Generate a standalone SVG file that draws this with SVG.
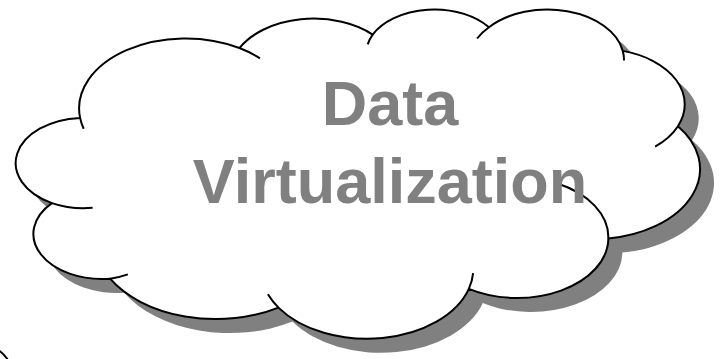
<svg xmlns="http://www.w3.org/2000/svg" xmlns:xlink="http://www.w3.org/1999/xlink" width="720" height="359" viewBox="0 0 720 359">
  <style>
    .outline { fill: none; stroke: #000; stroke-width: 2; stroke-linecap: butt; stroke-linejoin: round; }
    .shadow { fill: #808080; stroke: none; }
    .body { fill: #fff; stroke: #000; stroke-width: 2; stroke-linejoin: round; }
    .label { font-family: "Liberation Sans", Arial, sans-serif; font-weight: bold; font-size: 63px; fill: #808080; text-anchor: middle; }
  </style>
  <defs>
    <!-- eleven-lobed cloud outline, each lobe an elliptical arc -->
    <path id="cloud-shape" d="M 80.09 117.90
      A 106.47 70.03 0 0 1 239.42 48.03
      A 84.09 55.37 0 0 1 372.66 34.55
      A 68.82 45.30 0 0 1 488.98 27.30
      A 76.58 50.25 0 0 1 622.76 50.89
      A 84.09 55.42 0 0 1 677.95 126.20
      A 106.82 70.26 0 0 1 608.35 238.54
      A 91.21 59.95 0 0 1 468.83 288.91
      A 106.46 70.22 0 0 1 278.45 307.59
      A 121.72 80.34 0 0 1 110.12 278.68
      A 68.74 45.10 0 0 1 51.92 203.08
      A 68.51 45.30 0 0 1 80.09 117.90 Z"/>
  </defs>

  <g id="cloud">
    <use xlink:href="#cloud-shape" class="shadow" transform="translate(14,14)"/>
    <use xlink:href="#cloud-shape" class="body"/>
    <!-- short inner continuations of the lobes -->
    <path class="outline" d="M 92.59 207.87 A 68.51 45.30 0 0 1 51.92 203.08
      M 127.83 274.33 A 68.74 45.10 0 0 1 110.12 278.68
      M 278.45 307.59 A 106.46 70.22 0 0 1 267.91 294.33
      M 473.12 273.20 A 106.46 70.22 0 0 1 468.83 288.91
      M 556.71 183.31 A 91.21 59.95 0 0 1 608.35 238.54
      M 677.95 126.20 A 84.09 55.42 0 0 1 655.12 146.59
      M 622.76 50.89 A 76.58 50.25 0 0 1 623.97 60.52
      M 477.07 38.51 A 76.58 50.25 0 0 1 488.98 27.30
      M 367.70 44.37 A 68.82 45.30 0 0 1 372.66 34.55
      M 239.42 48.03 A 106.47 70.03 0 0 1 259.91 58.31
      M 83.67 128.71 A 106.47 70.03 0 0 1 80.09 117.90"/>
  </g>

  <g id="label">
    <text class="label" x="390" y="125">Data</text>
    <text class="label" x="390" y="203">Virtualization</text>
  </g>

  <g id="corner-arc">
    <path class="outline" d="M -1 350.5 Q 4 354 8 360"/>
  </g>
</svg>
